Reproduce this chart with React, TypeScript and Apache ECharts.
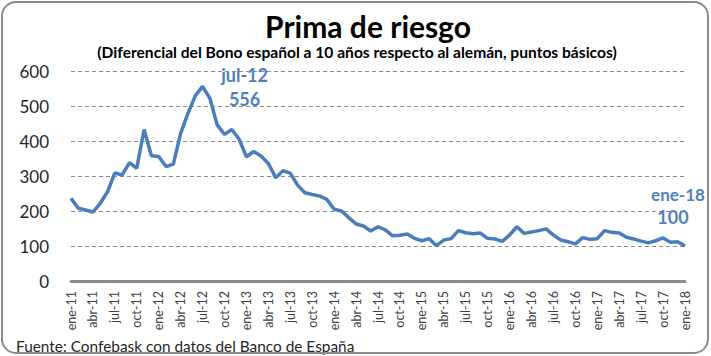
import React, { useEffect, useRef } from "react";
import * as echarts from "echarts";

const monthNames = ["ene", "feb", "mar", "abr", "may", "jun", "jul", "ago", "sep", "oct", "nov", "dic"];
const years = ["11", "12", "13", "14", "15", "16", "17", "18"];
const categories: string[] = [];
years.forEach((y) => monthNames.forEach((m) => categories.push(`${m}-${y}`)));
categories.splice(85);

const spread = [
  236, 208, 203, 197, 222, 255, 309, 303, 338, 322,
  433, 358, 356, 327, 334, 422, 479, 529, 556, 522,
  446, 419, 433, 405, 355, 370, 357, 336, 295, 315,
  308, 274, 252, 247, 243, 233, 205, 200, 181, 163,
  157, 143, 155, 146, 129, 131, 134, 122, 115, 121,
  101, 117, 121, 144, 138, 135, 137, 122, 120, 113,
  131, 155, 136, 140, 144, 149, 131, 117, 112, 106,
  124, 119, 121, 144, 139, 137, 125, 120, 114, 109,
  115, 123, 111, 112, 100,
];

const yTicks = { min: 0, max: 600, interval: 100 };

const TITLE = "Prima de riesgo";
const SUBTITLE = "(Diferencial del Bono español a 10 años respecto al alemán, puntos básicos)";
const SOURCE = "Fuente: Confebask con datos del Banco de España";

const BLUE = "#4A7EBB";
const ANN = "#4F81BD";
const FONT = "Lato, 'Open Sans', sans-serif";

export default function App() {
  const ref = useRef<HTMLDivElement>(null);
  useEffect(() => {
    if (!ref.current) return;
    const chart = echarts.init(ref.current, undefined, { renderer: "svg" });
    const peakIdx = spread.indexOf(Math.max(...spread));
    const lastIdx = spread.length - 1;
    const annStyle = { color: ANN, fontFamily: FONT, fontWeight: "bold" as const, fontSize: 18 };
    chart.setOption({
      animation: false,
      backgroundColor: "#ffffff",
      textStyle: { fontFamily: FONT },
      grid: { left: 71, right: 26, top: 71, bottom: 75 },
      xAxis: {
        type: "category",
        data: categories,
        boundaryGap: false,
        axisLine: { show: true, lineStyle: { color: "#8c8c8c", width: 3 } },
        axisTick: { show: false },
        axisLabel: {
          interval: 2,
          rotate: 90,
          margin: 10,
          fontSize: 12.5,
          color: "#404040",
          fontFamily: FONT,
        },
        splitLine: { show: false },
      },
      yAxis: {
        type: "value",
        min: yTicks.min,
        max: yTicks.max,
        interval: yTicks.interval,
        axisLine: { show: false },
        axisTick: { show: false },
        axisLabel: { margin: 22, fontSize: 17, color: "#262626", fontFamily: FONT },
        splitLine: { show: true, lineStyle: { color: "#8a8a8a", type: [4, 3], width: 1 } },
      },
      series: [
        {
          type: "line",
          data: spread,
          symbol: "none",
          lineStyle: { color: BLUE, width: 3.5 },
          markPoint: {
            symbol: "circle",
            symbolSize: 0,
            data: [
              { coord: [peakIdx, spread[peakIdx]], label: { ...annStyle, formatter: categories[peakIdx], offset: [42, -11] } },
              { coord: [peakIdx, spread[peakIdx]], label: { ...annStyle, formatter: String(spread[peakIdx]), offset: [42, 13] } },
              { coord: [lastIdx, spread[lastIdx]], label: { ...annStyle, fontSize: 17, formatter: categories[lastIdx], offset: [-7, -52] } },
              { coord: [lastIdx, spread[lastIdx]], label: { ...annStyle, formatter: String(spread[lastIdx]), offset: [-12, -29] } },
            ],
            label: { show: true, position: "inside" },
          },
        },
      ],
      graphic: [
        {
          type: "rect",
          shape: { x: 2, y: 2, width: 706, height: 351, r: 14 },
          style: { fill: "none", stroke: "#8c8c8c", lineWidth: 2 },
          z: 10,
        },
        {
          type: "text",
          x: 368,
          y: 26,
          style: {
            text: TITLE,
            fontFamily: FONT,
            fontWeight: "bold",
            fontSize: 30,
            fill: "#000000",
            align: "center",
            verticalAlign: "middle",
          },
        },
        {
          type: "text",
          x: 357,
          y: 52,
          style: {
            text: SUBTITLE,
            fontFamily: FONT,
            fontWeight: "bold",
            fontSize: 15.6,
            fill: "#000000",
            align: "center",
            verticalAlign: "middle",
          },
        },
        {
          type: "text",
          x: 16,
          y: 346,
          style: {
            text: SOURCE,
            fontFamily: FONT,
            fontSize: 15.4,
            fill: "#262626",
            align: "left",
            verticalAlign: "middle",
          },
        },
      ],
    });
    return () => chart.dispose();
  }, []);
  return (
    <div
      ref={ref}
      style={{ position: "absolute", left: 0, top: 0, width: 711, height: 356 }}
    />
  );
}
